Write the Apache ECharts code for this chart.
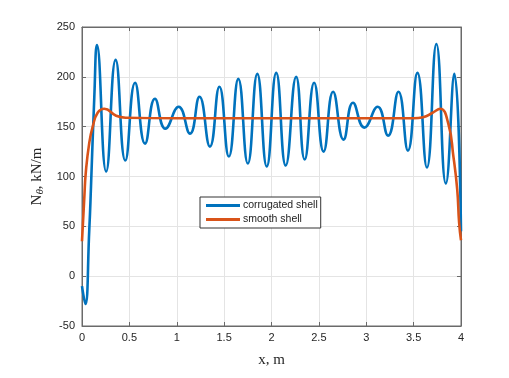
<!DOCTYPE html>
<html>
<head>
<meta charset="utf-8">
<script src="https://cdn.jsdelivr.net/npm/echarts@6/dist/echarts.min.js"></script>
<style>html,body{margin:0;padding:0;background:#fff}#c{width:509px;height:378px}</style>
</head>
<body>
<div id="c"></div>
<script>
// corrugated shell: x positions (m) and N values (kN/m), read at extrema
const corrX = [0, 0.035, 0.077, 0.095, 0.13, 0.158, 0.255, 0.355, 0.457, 0.56, 0.665, 0.77, 0.88, 1.02, 1.14, 1.24, 1.35, 1.45, 1.55, 1.65, 1.75, 1.85, 1.95, 2.05, 2.15, 2.26, 2.35, 2.45, 2.55, 2.65, 2.76, 2.86, 2.98, 3.12, 3.23, 3.34, 3.44, 3.54, 3.64, 3.74, 3.84, 3.93, 4.0];
const corrY = [-10, -28, 47, 90, 180, 232, 105, 217, 116, 194, 133, 178, 148, 170, 143, 180, 130, 190, 120, 198, 113, 203, 110, 204, 111, 200, 117, 194, 125, 185, 137, 174, 149, 170, 141, 185, 126, 204, 109, 233, 93, 203, 45];
// smooth shell
const smoothX = [0, 0.025, 0.04, 0.077, 0.113, 0.165, 0.235, 0.36, 0.46, 1.0, 2.0, 3.0, 3.5, 3.6, 3.7, 3.78, 3.866, 3.92, 3.96, 3.98, 4.0];
const smoothY = [35, 80, 104, 134, 150, 164, 168, 161, 159, 158.5, 158.5, 158.5, 158.5, 159.5, 164, 168, 153, 120, 87, 54, 36];
const xTicks = [0, 0.5, 1, 1.5, 2, 2.5, 3, 3.5, 4];
const yTicks = [-50, 0, 50, 100, 150, 200, 250];
const seriesNames = ['corrugated shell', 'smooth shell'];

const pair = (xs, ys) => xs.map((x, i) => [x, ys[i]]);
const axisCol = '#6a6a6a';
const xMin = xTicks[0], xMax = xTicks[xTicks.length - 1];
const yMin = yTicks[0], yMax = yTicks[yTicks.length - 1];
const chart = echarts.init(document.getElementById('c'), null, {renderer: 'canvas'});
chart.setOption({
  animation: false,
  backgroundColor: '#fff',
  grid: {left: 82, right: 48, top: 27, bottom: 52, show: true, borderColor: axisCol, borderWidth: 1},
  legend: {
    left: 200, top: 197, orient: 'vertical',
    backgroundColor: '#fff', borderColor: '#333', borderWidth: 1,
    padding: [3, 3, 3, 6], itemGap: 3, itemWidth: 34, itemHeight: 3, icon: 'rect',
    textStyle: {fontFamily: 'Liberation Sans, Arial', fontSize: 10.5, color: '#222', padding: [0, 0, 0, -2]},
    data: seriesNames
  },
  xAxis: [{
    type: 'value', min: xMin, max: xMax, interval: 0.5,
    name: 'x, m', nameLocation: 'middle', nameGap: 27,
    nameTextStyle: {fontFamily: 'Liberation Serif, Times New Roman', fontSize: 15, color: '#262626'},
    axisLine: {onZero: false, lineStyle: {color: axisCol}},
    axisTick: {inside: true, length: 4, lineStyle: {color: axisCol}},
    axisLabel: {fontFamily: 'Liberation Sans, Arial', fontSize: 11, color: '#262626', margin: 6},
    splitLine: {show: true, lineStyle: {color: '#e4e4e4'}}
  }, {
    type: 'value', position: 'top', min: xMin, max: xMax, interval: 0.5,
    axisLine: {onZero: false, lineStyle: {color: axisCol}},
    axisTick: {inside: true, length: 4, lineStyle: {color: axisCol}},
    axisLabel: {show: false}, splitLine: {show: false}
  }],
  yAxis: [{
    type: 'value', min: yMin, max: yMax, interval: 50,
    name: '{n|N}{s|θ}{n|, kN/m}', nameLocation: 'middle', nameGap: 32, nameRotate: 90,
    nameTextStyle: {
      color: '#262626',
      rich: {
        n: {fontFamily: 'Liberation Serif, Times New Roman', fontSize: 15, color: '#262626'},
        s: {fontFamily: 'Liberation Serif, Times New Roman', fontSize: 11, fontStyle: 'italic', color: '#262626', verticalAlign: 'bottom', padding: [6, 0, 0, 0]}
      }
    },
    axisLine: {show: true, onZero: false, lineStyle: {color: axisCol}},
    axisTick: {show: true, inside: true, length: 4, lineStyle: {color: axisCol}},
    axisLabel: {fontFamily: 'Liberation Sans, Arial', fontSize: 11, color: '#262626', margin: 7},
    splitLine: {show: true, lineStyle: {color: '#e4e4e4'}}
  }, {
    type: 'value', position: 'right', min: yMin, max: yMax, interval: 50,
    axisLine: {show: true, onZero: false, lineStyle: {color: axisCol}},
    axisTick: {show: true, inside: true, length: 4, lineStyle: {color: axisCol}},
    axisLabel: {show: false}, splitLine: {show: false}
  }],
  series: [
    {name: seriesNames[0], type: 'line', data: pair(corrX, corrY), smooth: 0.5, showSymbol: false,
     lineStyle: {color: '#0072BD', width: 2.6}, itemStyle: {color: '#0072BD'}},
    {name: seriesNames[1], type: 'line', data: pair(smoothX, smoothY), smooth: 0.5, showSymbol: false,
     lineStyle: {color: '#D95319', width: 2.6}, itemStyle: {color: '#D95319'}}
  ]
});
</script>
</body>
</html>
